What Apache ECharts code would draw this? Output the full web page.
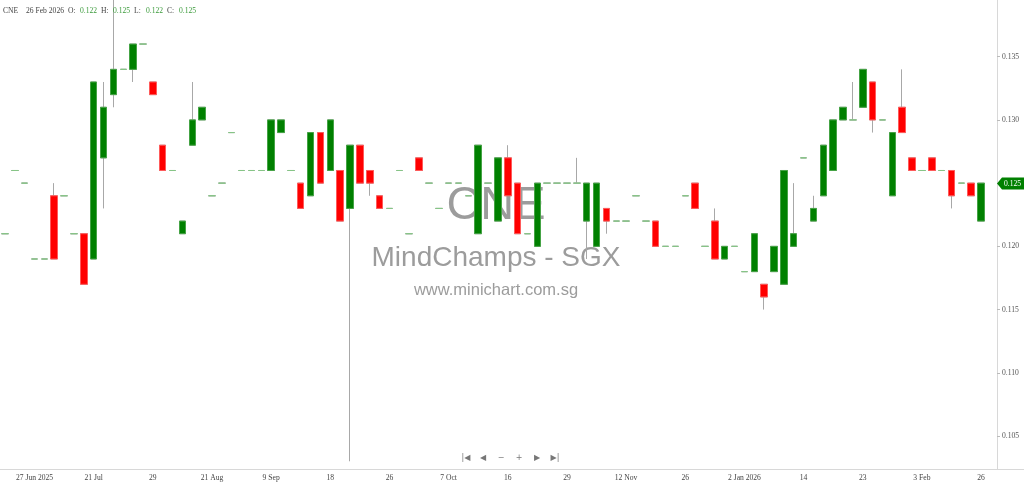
<!DOCTYPE html>
<html lang="en">
<head>
    <meta charset="UTF-8">
    <title>CNE - MindChamps</title>
    <style>
        html, body { margin: 0; padding: 0; background: #fff; }
        #chart { width: 1024px; height: 484px; }
    </style>
</head>
<body>
<div id="chart"></div>

<script type="text/javascript" src="https://cdn.jsdelivr.net/npm/echarts@6/dist/echarts.min.js"></script>
<script type="text/javascript">
    // trading days (only days with trades)
    var dates = [
        '2025-06-18', '2025-06-20', '2025-06-24', '2025-06-27', '2025-07-02', '2025-07-04', '2025-07-09', '2025-07-14', '2025-07-17', '2025-07-21',
        '2025-07-22', '2025-07-23', '2025-07-24', '2025-07-25', '2025-07-28', '2025-07-29', '2025-07-31', '2025-08-05', '2025-08-08', '2025-08-13',
        '2025-08-18', '2025-08-21', '2025-08-25', '2025-08-27', '2025-08-29', '2025-09-02', '2025-09-04', '2025-09-09', '2025-09-10', '2025-09-11',
        '2025-09-12', '2025-09-15', '2025-09-16', '2025-09-18', '2025-09-19', '2025-09-22', '2025-09-23', '2025-09-24', '2025-09-25', '2025-09-26',
        '2025-09-29', '2025-09-30', '2025-10-01', '2025-10-02', '2025-10-03', '2025-10-07', '2025-10-08', '2025-10-09', '2025-10-10', '2025-10-13',
        '2025-10-14', '2025-10-16', '2025-10-17', '2025-10-21', '2025-10-22', '2025-10-23', '2025-10-27', '2025-10-29', '2025-10-30', '2025-11-03',
        '2025-11-05', '2025-11-07', '2025-11-10', '2025-11-12', '2025-11-14', '2025-11-17', '2025-11-19', '2025-11-21', '2025-11-24', '2025-11-26',
        '2025-12-01', '2025-12-05', '2025-12-11', '2025-12-17', '2025-12-23', '2026-01-02', '2026-01-05', '2026-01-06', '2026-01-07', '2026-01-08',
        '2026-01-12', '2026-01-14', '2026-01-15', '2026-01-16', '2026-01-19', '2026-01-20', '2026-01-21', '2026-01-23', '2026-01-26', '2026-01-27',
        '2026-01-28', '2026-01-29', '2026-01-30', '2026-02-03', '2026-02-05', '2026-02-09', '2026-02-12', '2026-02-19', '2026-02-23', '2026-02-26'
    ];
    var opens = [
        0.121, 0.126, 0.125, 0.119, 0.119, 0.124, 0.124, 0.121, 0.121, 0.119,
        0.127, 0.132, 0.134, 0.134, 0.136, 0.133, 0.128, 0.126, 0.121, 0.128,
        0.130, 0.124, 0.125, 0.129, 0.126, 0.126, 0.126, 0.126, 0.129, 0.126,
        0.125, 0.124, 0.129, 0.126, 0.126, 0.123, 0.128, 0.126, 0.124, 0.123,
        0.126, 0.121, 0.127, 0.125, 0.123, 0.125, 0.125, 0.124, 0.121, 0.125,
        0.122, 0.127, 0.125, 0.121, 0.120, 0.125, 0.125, 0.125, 0.125, 0.122,
        0.120, 0.123, 0.122, 0.122, 0.124, 0.122, 0.122, 0.120, 0.120, 0.124,
        0.125, 0.120, 0.122, 0.119, 0.120, 0.118, 0.118, 0.117, 0.118, 0.117,
        0.120, 0.127, 0.122, 0.124, 0.126, 0.130, 0.130, 0.131, 0.133, 0.130,
        0.124, 0.131, 0.127, 0.126, 0.127, 0.126, 0.126, 0.125, 0.125, 0.122
    ];
    var highs = [
        0.121, 0.126, 0.125, 0.119, 0.119, 0.125, 0.124, 0.121, 0.121, 0.133,
        0.133, 0.140, 0.134, 0.136, 0.136, 0.133, 0.128, 0.126, 0.122, 0.133,
        0.131, 0.124, 0.125, 0.129, 0.126, 0.126, 0.126, 0.130, 0.130, 0.126,
        0.125, 0.129, 0.129, 0.130, 0.126, 0.128, 0.128, 0.126, 0.124, 0.123,
        0.126, 0.121, 0.127, 0.125, 0.123, 0.125, 0.125, 0.124, 0.128, 0.125,
        0.127, 0.128, 0.125, 0.121, 0.125, 0.125, 0.125, 0.125, 0.127, 0.125,
        0.125, 0.123, 0.122, 0.122, 0.124, 0.122, 0.122, 0.120, 0.120, 0.124,
        0.125, 0.120, 0.123, 0.120, 0.120, 0.118, 0.121, 0.117, 0.120, 0.126,
        0.125, 0.127, 0.124, 0.128, 0.130, 0.131, 0.133, 0.134, 0.133, 0.130,
        0.129, 0.134, 0.127, 0.126, 0.127, 0.126, 0.126, 0.125, 0.125, 0.125
    ];
    var lows = [
        0.121, 0.126, 0.125, 0.119, 0.119, 0.119, 0.124, 0.121, 0.117, 0.119,
        0.123, 0.131, 0.134, 0.133, 0.136, 0.132, 0.126, 0.126, 0.121, 0.128,
        0.130, 0.124, 0.125, 0.129, 0.126, 0.126, 0.126, 0.126, 0.129, 0.126,
        0.123, 0.124, 0.125, 0.126, 0.122, 0.103, 0.125, 0.124, 0.123, 0.123,
        0.126, 0.121, 0.126, 0.125, 0.123, 0.125, 0.125, 0.124, 0.121, 0.125,
        0.122, 0.124, 0.121, 0.121, 0.120, 0.125, 0.125, 0.125, 0.125, 0.119,
        0.120, 0.121, 0.122, 0.122, 0.124, 0.122, 0.120, 0.120, 0.120, 0.124,
        0.123, 0.120, 0.119, 0.119, 0.120, 0.118, 0.118, 0.115, 0.118, 0.117,
        0.120, 0.127, 0.122, 0.124, 0.126, 0.130, 0.130, 0.131, 0.129, 0.130,
        0.124, 0.129, 0.126, 0.126, 0.126, 0.126, 0.123, 0.125, 0.124, 0.122
    ];
    var closes = [
        0.121, 0.126, 0.125, 0.119, 0.119, 0.119, 0.124, 0.121, 0.117, 0.133,
        0.131, 0.134, 0.134, 0.136, 0.136, 0.132, 0.126, 0.126, 0.122, 0.130,
        0.131, 0.124, 0.125, 0.129, 0.126, 0.126, 0.126, 0.130, 0.130, 0.126,
        0.123, 0.129, 0.125, 0.130, 0.122, 0.128, 0.125, 0.125, 0.123, 0.123,
        0.126, 0.121, 0.126, 0.125, 0.123, 0.125, 0.125, 0.124, 0.128, 0.125,
        0.127, 0.124, 0.121, 0.121, 0.125, 0.125, 0.125, 0.125, 0.125, 0.125,
        0.125, 0.122, 0.122, 0.122, 0.124, 0.122, 0.120, 0.120, 0.120, 0.124,
        0.123, 0.120, 0.119, 0.120, 0.120, 0.118, 0.121, 0.116, 0.120, 0.126,
        0.121, 0.127, 0.123, 0.128, 0.130, 0.131, 0.130, 0.134, 0.130, 0.130,
        0.129, 0.129, 0.126, 0.126, 0.126, 0.126, 0.124, 0.125, 0.124, 0.125
    ];
    var yTicks = [0.105, 0.110, 0.115, 0.120, 0.125, 0.130, 0.135];

    var months = ['Jan', 'Feb', 'Mar', 'Apr', 'May', 'Jun', 'Jul', 'Aug', 'Sep', 'Oct', 'Nov', 'Dec'];
    var serif = 'Liberation Serif';
    var fs = 7.6;
    var upColor = '#008000', downColor = '#ff0000', flatColor = '#86c586', wickColor = '#a8a8a8';

    function showTick(index) {
        return (index - 3) % 6 === 0 && index >= 3;
    }
    function dateLabel(value, index) {
        var p = value.split('-');
        var prev = index - 6 >= 0 ? dates[index - 6].split('-') : null;
        var day = String(parseInt(p[2], 10));
        if (!prev || prev[0] !== p[0]) return day + ' ' + months[+p[1] - 1] + ' ' + p[0];
        if (prev[1] !== p[1]) return day + ' ' + months[+p[1] - 1];
        return day;
    }

    // wick series: full o/c/l/h in grey
    var wickData = dates.map(function (d, i) {
        return [opens[i], closes[i], lows[i], highs[i]];
    });
    // body series: drawn on top, no wick
    var bodyData = dates.map(function (d, i) {
        var item = {value: [opens[i], closes[i], Math.min(opens[i], closes[i]), Math.max(opens[i], closes[i])]};
        if (opens[i] === closes[i]) {
            item.itemStyle = {color: flatColor, color0: flatColor, borderColor: flatColor, borderColor0: flatColor};
        }
        return item;
    });

    var last = dates.length - 1;
    var lp = dates[last].split('-');
    var header = [
        ['CNE', 3, '#444'],
        [parseInt(lp[2], 10) + ' ' + months[+lp[1] - 1] + ' ' + lp[0], 26, '#444'],
        ['O:', 68, '#444'], [opens[last].toFixed(3), 80, '#3a9a3a'],
        ['H:', 101, '#444'], [highs[last].toFixed(3), 113, '#3a9a3a'],
        ['L:', 134, '#444'], [lows[last].toFixed(3), 146, '#3a9a3a'],
        ['C:', 167, '#444'], [closes[last].toFixed(3), 179, '#3a9a3a']
    ];
    var nav = [['|◀', 466], ['◀', 483], ['−', 501], ['+', 519], ['▶', 537], ['▶|', 555]];

    var wm = '#9c9c9c';
    var graphics = [
        {type: 'text', x: 496, y: 183, z: 0, style: {text: 'CNE', font: '47px "Liberation Sans"', fill: wm, align: 'center'}},
        {type: 'text', x: 496, y: 244, z: 0, style: {text: 'MindChamps - SGX', font: '28px "Liberation Sans"', fill: wm, align: 'center'}},
        {type: 'text', x: 496, y: 282, z: 0, style: {text: 'www.minichart.com.sg', font: '16.5px "Liberation Sans"', fill: wm, align: 'center'}},
        // bottom rule carried on under the price scale
        {type: 'line', z: 1, shape: {x1: 986, y1: 469.5, x2: 1024, y2: 469.5}, style: {stroke: '#d8d8d8', lineWidth: 1}}
    ];
    header.forEach(function (h) {
        graphics.push({type: 'text', x: h[1], y: 7, z: 10,
            style: {text: h[0], font: fs + 'px "' + serif + '"', fill: h[2]}});
    });
    nav.forEach(function (n) {
        graphics.push({type: 'text', x: n[1], y: 454, z: 10,
            style: {text: n[0], font: '8px "DejaVu Sans"', fill: '#777', align: 'center'}});
    });

    var dom = document.getElementById('chart');
    var myChart = echarts.init(dom);

    var option = {
        animation: false,
        backgroundColor: '#fff',
        grid: {left: 0, right: 38, top: 0, bottom: 15},
        xAxis: {
            type: 'category',
            data: dates,
            boundaryGap: true,
            axisLine: {lineStyle: {color: '#d8d8d8'}},
            axisTick: {alignWithLabel: true, interval: showTick, length: 3, lineStyle: {color: '#bbb'}},
            axisLabel: {interval: showTick, formatter: dateLabel, fontSize: fs, fontFamily: serif, color: '#444', margin: 5},
            splitLine: {show: false}
        },
        yAxis: {
            type: 'value',
            position: 'right',
            offset: 11,
            min: 0.10239,
            max: 0.139485,
            scale: true,
            splitLine: {show: false},
            axisLine: {show: true, lineStyle: {color: '#d8d8d8'}},
            axisTick: {show: true, length: 3, customValues: yTicks, lineStyle: {color: '#bbb'}},
            axisLabel: {
                customValues: yTicks,
                fontSize: fs, fontFamily: serif, color: '#555', margin: 5,
                formatter: function (v) { return v.toFixed(3); }
            }
        },
        graphic: graphics,
        series: [
            {
                name: 'wick',
                type: 'candlestick',
                data: wickData,
                barWidth: 7,
                clip: true,
                z: 2,
                itemStyle: {
                    color: 'transparent', color0: 'transparent',
                    borderColor: wickColor, borderColor0: wickColor, borderWidth: 1
                }
            },
            {
                name: 'body',
                type: 'candlestick',
                data: bodyData,
                barWidth: 7,
                clip: true,
                z: 3,
                itemStyle: {
                    color: upColor, color0: downColor,
                    borderColor: '#45a345', borderColor0: '#ff5a5a', borderWidth: 1
                }
            }
        ]
    };

    if (option && typeof option === 'object') {
        myChart.setOption(option);
    }

    // last close tag on the price scale, placed through the y axis scale
    var py = Math.round(myChart.convertToPixel({yAxisIndex: 0}, closes[last])) + 0.5;
    graphics.push({type: 'polygon', z: 20,
        shape: {points: [[997, py], [1002, py - 6], [1024, py - 6], [1024, py + 6], [1002, py + 6]]},
        style: {fill: upColor}});
    graphics.push({type: 'text', x: 1004, y: py, z: 21,
        style: {text: closes[last].toFixed(3), font: fs + 'px "' + serif + '"', fill: '#fff', verticalAlign: 'middle'}});
    myChart.setOption({graphic: graphics});
</script>
</body>
</html>
